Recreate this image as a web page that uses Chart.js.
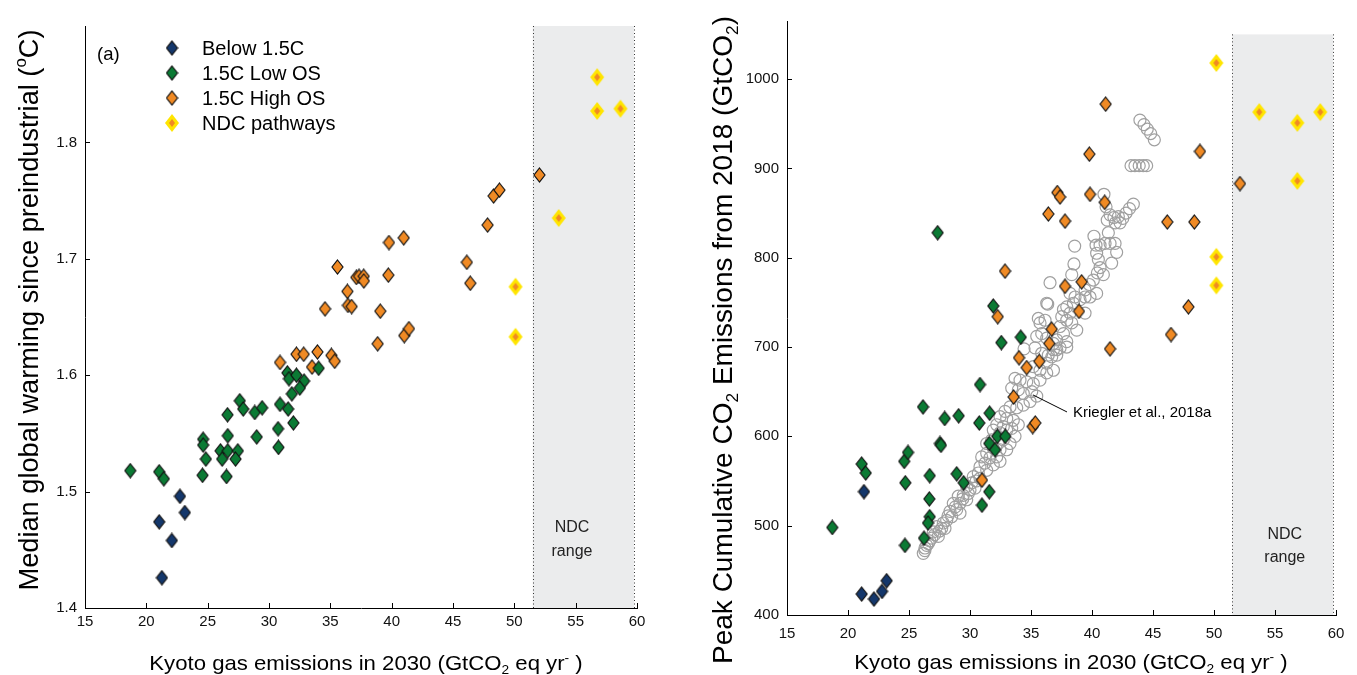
<!DOCTYPE html>
<html><head><meta charset="utf-8">
<script src="https://cdn.jsdelivr.net/npm/chart.js@4/dist/chart.umd.min.js"></script>
<style>
html,body{margin:0;padding:0;background:#fff;overflow:hidden}
#wrap{position:relative;width:1357px;height:675px}
.c{position:absolute;top:0;height:675px}
</style></head><body>
<div id="wrap">
<div class="c" style="left:0;width:680px"><canvas id="ca"></canvas></div>
<div class="c" style="left:680px;width:677px"><canvas id="cb"></canvas></div>
</div>
<script>
// ---------------- DATA ----------------
// Panel (a): median warming vs Kyoto gas emissions in 2030
const warmBelowX = [21.05, 21.27, 22.08, 22.74, 23.14];
const warmBelowY = [1.474, 1.426, 1.458, 1.496, 1.482];
const warmLowX = [18.69, 21.05, 21.43, 24.58, 26.54, 24.85, 24.63, 24.63, 26.05, 26.18, 26.64, 27.46, 27.27, 26.64, 26.62, 27.62, 27.9, 28.84, 29.44, 29.0, 30.74, 30.77, 30.9, 31.56, 31.99, 31.86, 31.5, 31.63, 32.24, 32.86, 32.51, 34.05];
const warmLowY = [1.518, 1.517, 1.511, 1.514, 1.513, 1.528, 1.545, 1.540, 1.535, 1.528, 1.535, 1.535, 1.528, 1.548, 1.566, 1.578, 1.571, 1.568, 1.572, 1.547, 1.554, 1.538, 1.575, 1.571, 1.559, 1.584, 1.602, 1.597, 1.600, 1.595, 1.589, 1.606];
const warmHighX = [30.9, 32.24, 32.83, 33.95, 33.51, 35.09, 35.36, 34.57, 36.39, 36.44, 36.74, 35.58, 37.12, 37.34, 37.72, 37.73, 39.73, 39.07, 38.86, 41.03, 41.41, 39.78, 40.98, 46.13, 46.41, 47.82, 48.31, 48.79, 52.05];
const warmHighY = [1.611, 1.618, 1.618, 1.620, 1.607, 1.617, 1.612, 1.657, 1.672, 1.660, 1.659, 1.693, 1.684, 1.685, 1.685, 1.681, 1.686, 1.655, 1.627, 1.634, 1.640, 1.714, 1.718, 1.697, 1.679, 1.729, 1.754, 1.759, 1.772];
const warmNdcX = [50.1, 50.1, 53.62, 56.75, 56.75, 58.65];
const warmNdcY = [1.676, 1.633, 1.735, 1.856, 1.827, 1.829];

// Panel (b): peak cumulative CO2 vs Kyoto gas emissions in 2030
const cumBelowX = [21.12, 22.13, 22.79, 23.17, 21.31];
const cumBelowY = [423.5, 417.9, 426.5, 438.4, 538.1];
const cumLowX = [18.71, 21.12, 21.45, 24.67, 24.61, 24.92, 24.7, 26.15, 27.93, 29.07, 27.54, 27.62, 26.7, 26.67, 26.7, 26.56, 26.23, 28.91, 29.48, 30.82, 30.76, 31.61, 31.58, 32.24, 32.89, 32.05, 31.58, 30.98, 32.57, 34.16, 27.35, 31.91];
const cumLowY = [498, 569, 559, 478, 572, 582, 548, 633, 620, 623, 592, 590, 556, 530, 510, 503, 486, 558, 548, 658, 615, 626, 592, 600, 600, 585, 538, 523, 705, 711, 828, 746];
const cumHighX = [30.98, 32.87, 32.27, 33.58, 34.02, 34.65, 35.14, 35.35, 35.68, 36.5, 36.7, 36.42, 37.79, 37.16, 37.38, 37.79, 38.93, 39.15, 39.78, 39.84, 41.04, 41.12, 41.48, 46.17, 46.48, 47.9, 48.39, 48.85, 52.13];
const cumHighY = [551, 785, 734, 644, 688, 677, 611, 615, 684, 704, 720, 849, 841, 873, 868, 768, 740, 773, 916, 871, 862, 972, 698, 840, 714, 745, 840, 919, 883];
const cumNdcX = [50.19, 53.71, 56.83, 58.71, 56.83, 50.19, 50.19];
const cumNdcY = [1018, 963, 951, 963, 886, 801, 769];
// Kriegler et al., 2018a scenarios (open circles)
const krieglerX = [43.93,44.26,44.53,44.81,45.11, 43.2,43.52,43.87,44.2,44.48,
 40.98,41.15,43.39,43.07,42.79,42.52,42.16,41.8,41.48,41.25,41.91,42.3,41.34,40.16,40.33,40.66,41.07,41.48,41.89,38.58,40.38,42.02,40.52,41.61,38.52,40.66,40.93,40.44,36.56,38.34,40.11,39.78,39.43,40.38,39.84,39.43,39.02,38.61,38.2,36.29,38.48,37.93,37.66,38.2,39.43,37.52,37.93,38.34,36.15,35.74,37.38,37.66,38.75,35.88,35.47,37.11,37.93,34.43,35.33,36.84,37.38,37.93,35.88,36.42,37.11,
 36.29,36.84,37.11,36.7,36.29,35.19,35.74,36.29,36.84,33.69,34.1,34.65,35.19,35.74,33.42,33.96,34.37,35.06,35.47,34.92,34.37,33.83,33.28,32.87,
 32.46,33.01,33.55,33.96,33.42,32.73,32.19,31.91,32.46,33.01,33.69,33.28,32.73,32.32,31.78,31.37,31.91,32.46,33.01,31.37,30.96,31.64,32.19,32.46,31.91,31.23,30.82,31.37,30.68,30.27,30.82,30.14,29.73,30.41,29.86,29.45,29.04,29.73,29.18,28.63,28.91,28.36,29.18,28.5,28.09,27.81,27.68,27.27,26.99,27.4,26.86,26.58,26.31,26.17,27.95,36.37,35.6,
 26.3,26.45,26.7,27.1,27.5,28.2,28.8,29.4,30.0,30.5];
const krieglerY = [954,949,944,939,932, 903,903,903,903,903,
 871,857,860,855,850,844,846,845,848,842,839,839,828,824,814,814,816,816,816,813,805,806,798,794,793,789,781,783,772,781,775,770,764,760,756,756,753,756,760,749,749,745,742,738,738,734,730,727,730,727,723,715,719,715,712,708,706,698,699,697,699,700,693,691,691,
 710,704,697,689,682,678,674,671,674,665,663,661,659,663,654,652,648,650,645,639,635,632,633,628,
 622,620,618,613,609,611,613,607,604,607,600,592,596,592,596,592,587,585,585,581,577,576,577,572,568,570,566,562,559,555,553,548,544,542,536,534,533,529,525,525,518,516,514,510,506,503,497,499,493,488,486,480,475,469,497,748,732,
 472,478,483,490,494,511,521,530,540,550];

const xTicks = [15, 20, 25, 30, 35, 40, 45, 50, 55, 60];
const warmTicks = [1.4, 1.5, 1.6, 1.7, 1.8];
const cumTicks = [400, 500, 600, 700, 800, 900, 1000];
const ndcRange = [51.5, 59.75];

// ---------------- STYLE ----------------
const FONT = "'Liberation Sans', Arial, Helvetica, sans-serif";
const C_BLUE = '#14376b', C_GREEN = '#0b7a34', C_ORANGE = '#f08a24', C_YELLOW = '#ffe500';

function diamond(w, h, fill, stroke, inner) {
  const c = document.createElement('canvas');
  c.width = w + 2; c.height = h + 2;
  const g = c.getContext('2d');
  const cx = c.width / 2, cy = c.height / 2;
  g.beginPath(); g.moveTo(cx, 1); g.lineTo(c.width - 1, cy); g.lineTo(cx, c.height - 1); g.lineTo(1, cy); g.closePath();
  g.fillStyle = fill; g.fill();
  if (stroke) { g.lineWidth = 1.2; g.strokeStyle = stroke; g.stroke(); }
  if (inner) {
    g.beginPath(); g.moveTo(cx, cy - inner[1] / 2); g.lineTo(cx + inner[0] / 2, cy); g.lineTo(cx, cy + inner[1] / 2); g.lineTo(cx - inner[0] / 2, cy); g.closePath();
    g.fillStyle = inner[2]; g.fill();
  }
  return c;
}
const mkBlue = diamond(11, 14, C_BLUE, '#111');
const mkGreen = diamond(11, 14, C_GREEN, '#111');
const mkOrange = diamond(11, 14, C_ORANGE, '#111');
const mkNdc = diamond(14, 18, C_YELLOW, null, [6, 8, C_ORANGE]);

const pts = (xs, ys) => xs.map((x, i) => ({ x, y: ys[i] }));

function ds(label, data, img, order) {
  return { label, data, pointStyle: img, pointRadius: 7, pointHoverRadius: 7, showLine: false, order };
}

function drawRich(ctx, segs, x, y, size, rot, sx) {
  ctx.save();
  ctx.translate(x, y);
  if (rot) ctx.rotate(rot);
  if (sx) ctx.scale(sx, 1);
  ctx.fillStyle = '#000';
  ctx.textBaseline = 'alphabetic';
  ctx.textAlign = 'left';
  let total = 0;
  const parts = segs.map(s => {
    const sz = s.sub || s.sup ? size * 0.62 : size;
    ctx.font = sz + 'px ' + FONT;
    const w = ctx.measureText(s.t).width;
    total += w;
    return { s, sz, w };
  });
  let cx = -total / 2;
  const base = size * 0.36;
  for (const p of parts) {
    ctx.font = p.sz + 'px ' + FONT;
    let dy = base;
    if (p.s.sub) dy = base + size * 0.22;
    if (p.s.sup) dy = base - size * 0.42;
    ctx.fillText(p.s.t, cx, dy);
    cx += p.w;
  }
  ctx.restore();
}

// per-panel decoration settings (kept outside Chart options so functions are not treated as scriptable)
const xTitleSegs = [{ t: 'Kyoto gas emissions in 2030 (GtCO' }, { t: '2', sub: true }, { t: ' eq yr' }, { t: '-', sup: true }, { t: ' )' }];
const panelCfg = {
  ca: {
    yTicks: warmTicks, shadeTop: 1.9, ndcTextX: 54.7, ndcTextY: [1.4694, 1.4488],
    yTitle: [{ t: 'Median global warming since preindustrial (' }, { t: 'o', sup: true }, { t: 'C)' }],
    yTitlePos: [28, 310], yTitleSize: 27.2, xTitlePos: [366, 663],
    after(chart, ctx) {
      ctx.save();
      ctx.fillStyle = '#000';
      ctx.font = '18.5px ' + FONT; ctx.textBaseline = 'middle'; ctx.textAlign = 'left';
      ctx.fillText('(a)', 97, 55);
      const items = [[mkBlue, 'Below 1.5C'], [mkGreen, '1.5C Low OS'], [mkOrange, '1.5C High OS'], [mkNdc, 'NDC pathways']];
      ctx.font = '20px ' + FONT;
      items.forEach((it, i) => {
        const yy = 48 + i * 25;
        ctx.drawImage(it[0], 172 - it[0].width / 2, yy - it[0].height / 2);
        ctx.fillText(it[1], 202, yy + 1);
      });
      ctx.restore();
    }
  },
  cb: {
    yTicks: cumTicks, shadeTop: 1050, ndcTextX: 55.8, ndcTextY: [489.6, 463.8],
    yTitle: [{ t: 'Peak Cumulative CO' }, { t: '2', sub: true }, { t: ' Emissions from 2018 (GtCO' }, { t: '2', sub: true }, { t: ')' }],
    yTitlePos: [42, 340], yTitleSize: 28, xTitlePos: [391, 662],
    after(chart, ctx) {
      const x = chart.scales.x, y = chart.scales.y;
      ctx.save();
      ctx.strokeStyle = '#000'; ctx.lineWidth = 1;
      ctx.beginPath();
      ctx.moveTo(x.getPixelForValue(35.16), y.getPixelForValue(646.4));
      ctx.lineTo(x.getPixelForValue(37.95), y.getPixelForValue(627.3));
      ctx.stroke();
      ctx.fillStyle = '#000';
      ctx.font = '15px ' + FONT; ctx.textBaseline = 'middle'; ctx.textAlign = 'left';
      ctx.fillText('Kriegler et al., 2018a', x.getPixelForValue(38.44), y.getPixelForValue(626));
      ctx.restore();
    }
  }
};

const inwardTicks = {
  id: 'inwardTicks',
  afterDatasetsDraw(chart) {
    const cfg = panelCfg[chart.canvas.id];
    const { ctx, scales: { x, y }, chartArea: a } = chart;
    ctx.save();
    ctx.strokeStyle = '#000'; ctx.lineWidth = 1;
    ctx.beginPath();
    for (const v of xTicks) {
      const px = Math.round(x.getPixelForValue(v)) + 0.5;
      ctx.moveTo(px, a.bottom); ctx.lineTo(px, a.bottom - 5);
    }
    for (const v of cfg.yTicks) {
      const py = Math.round(y.getPixelForValue(v)) + 0.5;
      ctx.moveTo(a.left, py); ctx.lineTo(a.left + 5, py);
    }
    ctx.stroke();
    ctx.restore();
  }
};

const ndcShade = {
  id: 'ndcShade',
  beforeDatasetsDraw(chart) {
    const o = panelCfg[chart.canvas.id];
    const { ctx, scales: { x, y } } = chart;
    const x0 = x.getPixelForValue(ndcRange[0]), x1 = x.getPixelForValue(ndcRange[1]);
    const yt = y.getPixelForValue(o.shadeTop), yb = y.getPixelForValue(y.min);
    ctx.save();
    ctx.fillStyle = '#ebeced';
    ctx.fillRect(x0, yt, x1 - x0, yb - yt);
    ctx.strokeStyle = '#333'; ctx.lineWidth = 1; ctx.setLineDash([1, 2.5]);
    ctx.beginPath();
    ctx.moveTo(Math.round(x0) + 0.5, yt); ctx.lineTo(Math.round(x0) + 0.5, yb);
    ctx.moveTo(Math.round(x1) + 0.5, yt); ctx.lineTo(Math.round(x1) + 0.5, yb);
    ctx.stroke();
    ctx.setLineDash([]);
    ctx.fillStyle = '#222';
    ctx.font = '16px ' + FONT; ctx.textAlign = 'center'; ctx.textBaseline = 'middle';
    ctx.fillText('NDC', x.getPixelForValue(o.ndcTextX), y.getPixelForValue(o.ndcTextY[0]));
    ctx.fillText('range', x.getPixelForValue(o.ndcTextX), y.getPixelForValue(o.ndcTextY[1]));
    ctx.restore();
  }
};

const extras = {
  id: 'extras',
  afterDraw(chart) {
    const o = panelCfg[chart.canvas.id];
    const ctx = chart.ctx;
    drawRich(ctx, o.yTitle, o.yTitlePos[0], o.yTitlePos[1], o.yTitleSize, -Math.PI / 2);
    drawRich(ctx, xTitleSegs, o.xTitlePos[0], o.xTitlePos[1], 19.8, 0, 1.12);
    o.after(chart, ctx);
  }
};

function baseOptions(xH, yW, pad, yMin, yMax, yTickVals, xPad) {
  return {
    responsive: true, maintainAspectRatio: false, animation: false, events: [],
    layout: { padding: pad },
    scales: {
      x: {
        type: 'linear', min: 15, max: 60,
        afterBuildTicks: s => { s.ticks = xTicks.map(v => ({ value: v })); },
        afterFit: s => { s.height = xH; },
        ticks: { font: { family: FONT, size: 15 }, color: '#111', padding: xPad, maxRotation: 0, callback: v => String(v) },
        grid: { display: true, drawOnChartArea: false, drawTicks: false },
        border: { display: true, color: '#000', width: 1 }
      },
      y: {
        type: 'linear', min: yMin, max: yMax,
        afterBuildTicks: s => { s.ticks = yTickVals.map(v => ({ value: v })); },
        afterFit: s => { s.width = yW; },
        ticks: { font: { family: FONT, size: 15 }, color: '#111', padding: 8, callback: v => (yMax < 10 ? v.toFixed(1) : String(v)) },
        grid: { display: true, drawOnChartArea: false, drawTicks: false },
        border: { display: true, color: '#000', width: 1 }
      }
    },
    plugins: { legend: { display: false }, tooltip: { enabled: false } }
  };
}

// ---------------- PANEL A ----------------
new Chart(document.getElementById('ca'), {
  type: 'scatter',
  data: { datasets: [
    ds('NDC pathways', pts(warmNdcX, warmNdcY), mkNdc, 0),
    ds('Below 1.5C', pts(warmBelowX, warmBelowY), mkBlue, 1),
    ds('1.5C Low OS', pts(warmLowX, warmLowY), mkGreen, 2),
    ds('1.5C High OS', pts(warmHighX, warmHighY), mkOrange, 3)
  ] },
  options: baseOptions(67, 85, { left: 0, right: 43, top: 26, bottom: 0 }, 1.4, 1.9, warmTicks, 5),
  plugins: [ndcShade, inwardTicks, extras]
});

// ---------------- PANEL B ----------------
new Chart(document.getElementById('cb'), {
  type: 'scatter',
  data: { datasets: [
    ds('NDC pathways', pts(cumNdcX, cumNdcY), mkNdc, 0),
    ds('Below 1.5C', pts(cumBelowX, cumBelowY), mkBlue, 1),
    ds('1.5C Low OS', pts(cumLowX, cumLowY), mkGreen, 2),
    ds('1.5C High OS', pts(cumHighX, cumHighY), mkOrange, 3),
    { label: 'Kriegler et al., 2018a', data: pts(krieglerX, krieglerY), pointStyle: 'circle', pointRadius: 6,
      pointBorderColor: '#a0a0a0', pointBackgroundColor: 'rgba(255,255,255,0)', pointBorderWidth: 1.2, showLine: false, order: 5 }
  ] },
  options: baseOptions(60, 107, { left: 0, right: 21, top: 21, bottom: 0 }, 400, 1065, cumTicks, 10),
  plugins: [ndcShade, inwardTicks, extras]
});
</script>
</body></html>
